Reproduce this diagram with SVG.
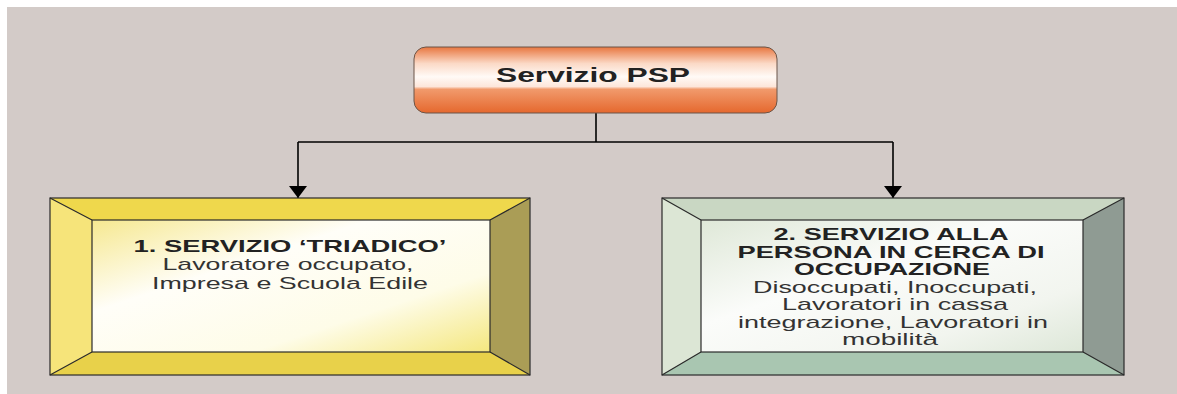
<svg xmlns="http://www.w3.org/2000/svg" width="1177" height="394" viewBox="0 0 1177 394">
<defs>
<linearGradient id="gTop" x1="0" y1="0" x2="0" y2="1">
<stop offset="0" stop-color="#e8763f"/>
<stop offset="0.25" stop-color="#fbd9c6"/>
<stop offset="0.45" stop-color="#fffaf6"/>
<stop offset="0.6" stop-color="#fde6da"/>
<stop offset="0.64" stop-color="#f19a6c"/>
<stop offset="1" stop-color="#e5682e"/>
</linearGradient>
<linearGradient id="gYel" x1="0" y1="0" x2="1" y2="1">
<stop offset="0" stop-color="#f6e890"/>
<stop offset="0.35" stop-color="#fffef8"/>
<stop offset="0.7" stop-color="#fefce8"/>
<stop offset="1" stop-color="#f4e77f"/>
</linearGradient>
<linearGradient id="gGrn" x1="0" y1="0" x2="1" y2="1">
<stop offset="0" stop-color="#dfe8d8"/>
<stop offset="0.4" stop-color="#fbfcfa"/>
<stop offset="0.75" stop-color="#f2f5ef"/>
<stop offset="1" stop-color="#dde7d8"/>
</linearGradient>
<marker id="arr" viewBox="0 0 12 18" refX="12" refY="9" markerWidth="12" markerHeight="18" markerUnits="userSpaceOnUse" orient="auto">
<path d="M0,0 L12,9 L0,18 Z" fill="#000"/>
</marker>
</defs>
<style>
.t{font-family:"Liberation Sans",Arial,sans-serif;fill:#222;text-anchor:middle}
.b{font-weight:bold;font-size:17px}
.r{font-size:17px;fill:#333}
.edge{stroke:#2a2a2a;stroke-width:1.2;stroke-linejoin:miter}
.conn{fill:none;stroke:#000;stroke-width:1.6}
</style>
<rect x="0" y="0" width="1177" height="394" fill="#ffffff"/>
<rect x="7" y="7" width="1170" height="387" fill="#d3cbc8"/>

<g id="connectors">
<path class="conn" d="M596,113 V142"/>
<path class="conn" d="M298,142 H893"/>
<path class="conn" d="M298,142 V198" marker-end="url(#arr)"/>
<path class="conn" d="M893,142 V198" marker-end="url(#arr)"/>
</g>

<g id="node-psp">
<rect x="414" y="47" width="363" height="66" rx="12" fill="url(#gTop)" stroke="#6b5548" stroke-width="1"/>
<text class="t" x="593" y="82" font-size="20" font-weight="bold" textLength="194" lengthAdjust="spacingAndGlyphs">Servizio PSP</text>
</g>

<g id="node-triadico">
<polygon points="50,198 530,198 490,220 92,220" fill="#efd84c"/>
<polygon points="50,198 92,220 92,352 50,375" fill="#f6e47a"/>
<polygon points="50,375 92,352 490,352 530,375" fill="#e8d14a"/>
<polygon points="530,198 530,375 490,352 490,220" fill="#aa9d56"/>
<rect x="92" y="220" width="398" height="132" fill="url(#gYel)"/>
<rect class="edge" x="50" y="198" width="480" height="177" fill="none"/>
<rect class="edge" x="92" y="220" width="398" height="132" fill="none"/>
<path class="edge" d="M50,198 L92,220 M530,198 L490,220 M50,375 L92,352 M530,375 L490,352" fill="none" stroke-width="0.8"/>
<text class="t b" x="290" y="252" textLength="313" lengthAdjust="spacingAndGlyphs">1. SERVIZIO ‘TRIADICO’</text>
<text class="t r" x="288" y="270" textLength="251" lengthAdjust="spacingAndGlyphs">Lavoratore occupato,</text>
<text class="t r" x="290" y="289" textLength="276" lengthAdjust="spacingAndGlyphs">Impresa e Scuola Edile</text>
</g>

<g id="node-persona">
<polygon points="662,198 1124,198 1083,220 701,220" fill="#c9d7c3"/>
<polygon points="662,198 701,220 701,352 662,375" fill="#dce6d5"/>
<polygon points="662,375 701,352 1083,352 1124,375" fill="#a9c6b1"/>
<polygon points="1124,198 1124,375 1083,352 1083,220" fill="#8f9b93"/>
<rect x="701" y="220" width="382" height="132" fill="url(#gGrn)"/>
<rect class="edge" x="662" y="198" width="462" height="177" fill="none"/>
<rect class="edge" x="701" y="220" width="382" height="132" fill="none"/>
<path class="edge" d="M662,198 L701,220 M1124,198 L1083,220 M662,375 L701,352 M1124,375 L1083,352" fill="none" stroke-width="0.8"/>
<text class="t b" x="891" y="240" textLength="235" lengthAdjust="spacingAndGlyphs">2. SERVIZIO ALLA</text>
<text class="t b" x="891" y="258" textLength="307" lengthAdjust="spacingAndGlyphs">PERSONA IN CERCA DI</text>
<text class="t b" x="892" y="275" textLength="196" lengthAdjust="spacingAndGlyphs">OCCUPAZIONE</text>
<text class="t r" x="895" y="293" textLength="284" lengthAdjust="spacingAndGlyphs">Disoccupati, Inoccupati,</text>
<text class="t r" x="895" y="310" textLength="226" lengthAdjust="spacingAndGlyphs">Lavoratori in cassa</text>
<text class="t r" x="893" y="328" textLength="310" lengthAdjust="spacingAndGlyphs">integrazione, Lavoratori in</text>
<text class="t r" x="890" y="345" textLength="96" lengthAdjust="spacingAndGlyphs">mobilità</text>
</g>
</svg>
